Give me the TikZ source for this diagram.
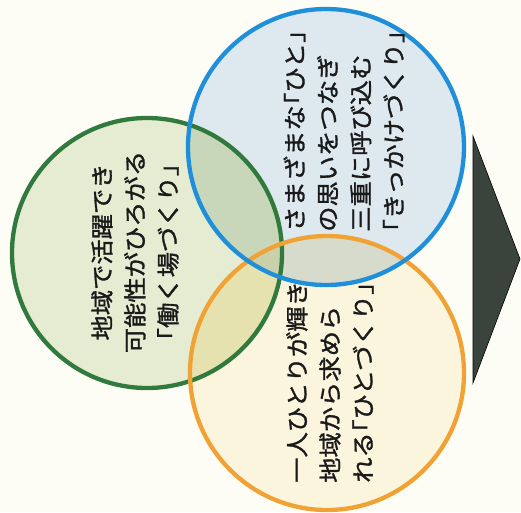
\documentclass[tikz,border=0pt]{standalone}
\usepackage{fontspec}
\newfontfamily\cjk[FakeBold=1.3]{Noto Sans CJK JP}
\newcommand\lk{\makebox[0.5em][r]{「}}
\newcommand\rk{\makebox[0.5em][l]{」}}
\definecolor{bgc}{HTML}{FDFDF6}
\definecolor{gline}{HTML}{2F7A3C}
\definecolor{bline}{HTML}{1E8FD8}
\definecolor{oline}{HTML}{F0A235}
\definecolor{gfill}{HTML}{E6ECD2}
\definecolor{bfill}{HTML}{DDE8EF}
\definecolor{ofill}{HTML}{FBF5DE}
\definecolor{gbfill}{HTML}{C8D7BA}
\definecolor{gofill}{HTML}{E6E2B0}
\definecolor{bofill}{HTML}{D6DBCB}
\definecolor{gbofill}{HTML}{C9D0AA}
\definecolor{arrc}{HTML}{3B433D}
\definecolor{txtc}{HTML}{1A1A1A}
\begin{document}
\begin{tikzpicture}[x=1pt,y=-1pt,
  txt/.style={font=\cjk\fontsize{23}{33}\selectfont, text=txtc, rotate=90, xscale=1.1, inner sep=0pt},
  ring/.style={line width=4.3pt}]
\useasboundingbox (0,0) rectangle (521,512);
\fill[bgc] (0,0) rectangle (521,512);
\coordinate (cg) at (147,253);
\coordinate (cb) at (326,147);
\coordinate (co) at (327,373);
% base fills
\fill[gfill] (cg) circle[radius=135pt];
\fill[bfill] (cb) circle[radius=138pt];
\fill[ofill] (co) circle[radius=137pt];
% overlaps
\begin{scope}
  \clip (cb) circle[radius=138pt];
  \fill[bofill] (co) circle[radius=137pt];
\end{scope}
\begin{scope}
  \clip (cg) circle[radius=135pt];
  \fill[gbfill] (cb) circle[radius=138pt];
  \fill[gofill] (co) circle[radius=137pt];
  \clip (cb) circle[radius=138pt];
  \fill[gbofill] (co) circle[radius=137pt];
\end{scope}
% rings
\draw[ring, gline] (cg) circle[radius=135pt];
\draw[ring, oline] (co) circle[radius=137pt];
\draw[ring, bline] (cb) circle[radius=138pt];
% texts
\node[txt, align=center] (tg) at (135,252) {地域で活躍でき\\可能性がひろがる\\\lk 働く場づくり\rk};
\node[txt, align=left, anchor=west] (tb) at (344,232) {さまざまな\lk ひと\rk\\の思いをつなぎ\\三重に呼び込む\\\lk きっかけづくり\rk};
\node[txt, align=left, anchor=west] (to) at (330,483) {一人ひとりが輝き\\地域から求めら\\れる\lk ひとづくり\rk};
% arrow
\coordinate (a1) at (473,136);
\coordinate (a2) at (473,383);
\coordinate (a3) at (520,259);
\filldraw[fill=arrc, draw=black, line width=0.6pt] (a1) -- (a2) -- (a3) -- cycle;
\end{tikzpicture}
\end{document}
